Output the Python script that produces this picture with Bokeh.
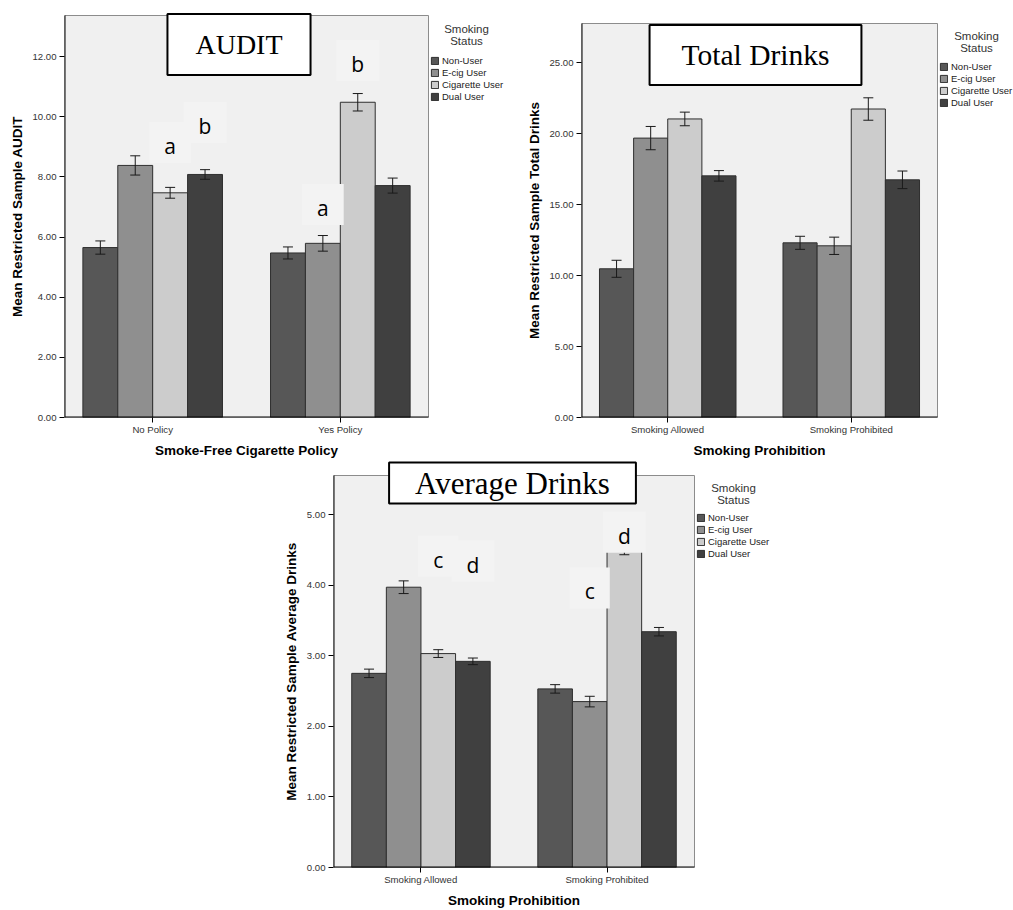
from bokeh.plotting import figure
from bokeh.models import (ColumnDataSource, Range1d, FixedTicker, NumeralTickFormatter,
                          Whisker, TeeHead, Legend, LegendItem, Label, Spacer, LinearAxis)
from bokeh.layouts import row, column
from bokeh.embed import file_html
from bokeh.resources import INLINE

# ---------------- data ----------------
series = ["Non-User", "E-cig User", "Cigarette User", "Dual User"]
series_colors = ["#575757", "#8f8f8f", "#cccccc", "#404040"]

audit_categories = ["No Policy", "Yes Policy"]
audit_means = [[5.65, 5.47], [8.38, 5.79], [7.47, 10.48], [8.08, 7.71]]
audit_errors = [[0.22, 0.20], [0.32, 0.26], [0.18, 0.29], [0.16, 0.25]]
audit_yticks = [0, 2, 4, 6, 8, 10, 12]
audit_letters = [("No Policy", "Cigarette User", "a", 9.14),
                 ("No Policy", "Dual User", "b", 9.81),
                 ("Yes Policy", "E-cig User", "a", 7.08),
                 ("Yes Policy", "Cigarette User", "b", 11.87)]

total_categories = ["Smoking Allowed", "Smoking Prohibited"]
total_means = [[10.48, 12.31], [19.69, 12.10], [21.04, 21.74], [17.03, 16.75]]
total_errors = [[0.60, 0.46], [0.82, 0.61], [0.48, 0.79], [0.37, 0.62]]
total_yticks = [0, 5, 10, 15, 20, 25]
total_letters = []

avg_categories = ["Smoking Allowed", "Smoking Prohibited"]
avg_means = [[2.75, 2.53], [3.97, 2.35], [3.03, 4.48], [2.92, 3.34]]
avg_errors = [[0.06, 0.06], [0.09, 0.075], [0.055, 0.05], [0.047, 0.06]]
avg_yticks = [0, 1, 2, 3, 4, 5]
avg_letters = [("Smoking Allowed", "Cigarette User", "c", 4.41),
               ("Smoking Allowed", "Dual User", "d", 4.34),
               ("Smoking Prohibited", "E-cig User", "c", 3.96),
               ("Smoking Prohibited", "Cigarette User", "d", 4.75)]

# ---------------- styling / layout ----------------
X0, X1 = 0.03, 1.97
BAR_W = 0.186
OFFSETS = [(k - 1.5) * BAR_W for k in range(4)]
SANS = "Liberation Sans"
SERIF = "Liberation Serif"
EM = {"A": .722, "U": .722, "D": .722, "I": .333, "T": .611, "o": .5, "t": .278,
      "a": .444, "l": .278, " ": .25, "r": .333, "i": .278, "n": .5, "k": .5,
      "s": .389, "v": .5, "e": .444, "g": .5}


def make_panel(cats, means, errs, yticks, letters, ylabel, xlabel,
               title, title_size, title_box, status, legend_xy, geo):
    pl, pr, pt, pb, ppu = geo["plot"]      # plot-area edges in page px, px per y unit
    fl, ft, fr = geo["frame"]              # frame left / top / right in page px

    def dx(px):
        return X0 + (px - pl) / (pr - pl) * (X1 - X0)

    def dy(py):
        return (pb - py) / ppu

    y_top = dy(pt)
    p = figure(width=geo["w"], height=geo["h"], output_backend="svg", toolbar_location=None,
               x_range=Range1d(X0, dx(fr)), y_range=Range1d(0, dy(ft)),
               min_border_left=fl - geo["x"], min_border_right=geo["x"] + geo["w"] - fr,
               min_border_top=ft - geo["y"], min_border_bottom=geo["y"] + geo["h"] - pb,
               title=None)
    p.background_fill_color = "white"
    p.border_fill_color = "white"
    p.outline_line_color = None
    p.grid.visible = False

    # plot area
    p.quad(left=[X0], right=[X1], bottom=[0], top=[y_top],
           fill_color="#f0f0f0", line_color="#8c8c8c", line_width=1)

    renderers = []
    for k, s in enumerate(series):
        xs = [i + 0.5 + OFFSETS[k] for i in range(len(cats))]
        src = ColumnDataSource(dict(
            xb=xs, top=means[k],
            upper=[m + e for m, e in zip(means[k], errs[k])],
            lower=[m - e for m, e in zip(means[k], errs[k])]))
        r = p.vbar(x="xb", top="top", bottom=0, width=BAR_W, source=src,
                   fill_color=series_colors[k], line_color="#2f2f2f", line_width=1)
        renderers.append(r)
        p.add_layout(Whisker(source=src, base="xb", upper="upper", lower="lower",
                             level="annotation", line_color="#1a1a1a", line_width=1,
                             upper_head=TeeHead(size=10, line_color="#1a1a1a", line_width=1),
                             lower_head=TeeHead(size=10, line_color="#1a1a1a", line_width=1)))

    # black axis lines along the plot area
    p.segment(x0=[X0, X0], y0=[0, 0], x1=[X0, X1], y1=[y_top, 0],
              line_color="black", line_width=2)

    # tick axes
    p.xaxis.ticker = FixedTicker(ticks=[i + 0.5 for i in range(len(cats))])
    p.xaxis.major_label_overrides = {i + 0.5: c for i, c in enumerate(cats)}
    p.yaxis.ticker = FixedTicker(ticks=yticks)
    p.yaxis.formatter = NumeralTickFormatter(format="0.00")
    for ax, so in ((p.xaxis, 1), (p.yaxis, 3)):
        ax.axis_line_color = None
        ax.major_tick_line_color = "black"
        ax.major_tick_in = 0
        ax.major_tick_out = 5
        ax.minor_tick_line_color = None
        ax.major_label_standoff = so
        ax.major_label_text_font = SANS
        ax.major_label_text_font_size = "9.6px"
        ax.major_label_text_color = "#333333"

    # axis titles, centred on the plot area
    xt = LinearAxis(ticker=FixedTicker(ticks=[(X0 + X1) / 2]),
                    major_label_overrides={(X0 + X1) / 2: xlabel})
    yt = LinearAxis(ticker=FixedTicker(ticks=[y_top / 2]),
                    major_label_overrides={y_top / 2: ylabel},
                    major_label_orientation="vertical")
    for ax, so in ((xt, 5), (yt, 5)):
        ax.axis_line_color = None
        ax.major_tick_line_color = None
        ax.minor_tick_line_color = None
        ax.major_tick_in = 0
        ax.major_tick_out = 0
        ax.major_label_standoff = so
        ax.major_label_text_font = SANS
        ax.major_label_text_font_style = "bold"
        ax.major_label_text_font_size = "13.5px"
        ax.major_label_text_color = "black"
    p.add_layout(xt, "below")
    p.add_layout(yt, "left")

    # significance letters
    for cat, s, letter, yv in letters:
        xv = cats.index(cat) + 0.5 + OFFSETS[series.index(s)]
        p.add_layout(Label(x=xv, y=yv, text=letter, text_font="Open Sans",
                           text_font_size="21px", text_color="black",
                           text_align="center", text_baseline="middle",
                           background_fill_color="#f3f3f3",
                           padding=dict(left=15, right=15, top=10, bottom=3)))

    # title box
    bl, br, bt, bb = title_box
    fs = float(title_size[:-2])
    padx = max(0, int((br - bl - sum(EM.get(ch, .5) for ch in title) * fs) / 2))
    pady = max(0, int(((bb - bt) - fs * 1.15) / 2))
    p.add_layout(Label(x=dx((bl + br) / 2), y=dy((bt + bb) / 2), text=title,
                       text_font=SERIF, text_font_size=title_size, text_color="black",
                       text_align="center", text_baseline="middle",
                       background_fill_color="white", border_line_color="black",
                       border_line_width=2,
                       padding=dict(left=padx, right=padx, top=pady, bottom=pady)))

    # legend
    legend = Legend(items=[LegendItem(label=s, renderers=[r]) for s, r in zip(series, renderers)],
                    location=legend_xy, orientation="vertical",
                    glyph_width=9, glyph_height=9, label_height=12, label_standoff=3,
                    spacing=0, padding=0, margin=0, border_line_color=None,
                    background_fill_alpha=0, label_text_font=SANS,
                    label_text_font_size="9.5px", label_text_color="#222222")
    p.add_layout(legend)
    sx, sy1, sy2 = status
    for txt, yy in (("Smoking", sy1), ("Status", sy2)):
        p.add_layout(Label(x=dx(sx), y=dy(yy), text=txt, text_font=SANS,
                           text_font_size="11.5px", text_color="#333333",
                           text_align="center", text_baseline="middle"))
    return p


p1 = make_panel(audit_categories, audit_means, audit_errors, audit_yticks, audit_letters,
                "Mean Restricted Sample AUDIT", "Smoke-Free Cigarette Policy",
                "AUDIT", "28px", (166, 311, 12, 76), (466, 28, 40), (366, 315),
                dict(x=0, y=0, w=507, h=460, frame=(64, 10, 507),
                     plot=(64, 428, 15, 417, 30.08)))

p2 = make_panel(total_categories, total_means, total_errors, total_yticks, total_letters,
                "Mean Restricted Sample Total Drinks", "Smoking Prohibition",
                "Total Drinks", "29.5px", (648, 862, 23, 86), (976, 35, 47), (358, 309),
                dict(x=507, y=0, w=506, h=460, frame=(581, 10, 1013),
                     plot=(581, 937, 23, 417, 14.19)))

p3 = make_panel(avg_categories, avg_means, avg_errors, avg_yticks, avg_letters,
                "Mean Restricted Sample Average Drinks", "Smoking Prohibition",
                "Average Drinks", "31px", (387, 637, 461, 504), (733, 487, 499), (363, 308),
                dict(x=270, y=460, w=505, h=450, frame=(333, 460, 775),
                     plot=(333, 694, 475, 867, 70.6)))

layout = column(row(p1, p2), row(Spacer(width=270, height=450), p3))

open("out.html", "w").write(file_html(layout, INLINE))
